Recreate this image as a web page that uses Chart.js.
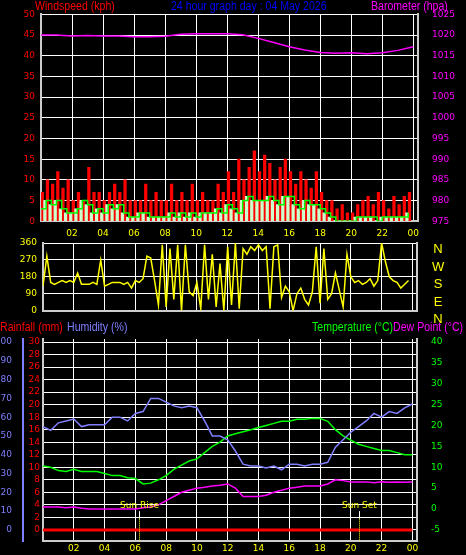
<!DOCTYPE html>
<html><head><meta charset="utf-8">
<script src="https://cdn.jsdelivr.net/npm/chart.js@4"></script>
<style>
body{margin:0;background:#000;width:466px;height:555px;overflow:hidden;position:relative;font-family:"Liberation Sans",sans-serif}
canvas{position:absolute;left:0}
.t{position:absolute;font-size:12px;white-space:nowrap;line-height:12px;transform:scaleX(0.88);transform-origin:0 0}
</style></head><body>
<canvas id="c1" style="top:3px"></canvas>
<canvas id="c2" style="top:230px"></canvas>
<canvas id="c3" style="top:318px"></canvas>
<div class="t" style="left:35px;top:0;color:#f00">Windspeed (kph)</div>
<div class="t" style="left:171px;top:0;color:#00f">24 hour graph day : 04 May 2026</div>
<div class="t" style="left:371px;top:0;color:#f0f">Barometer (hpa)</div>
<div class="t" style="left:432px;top:240px;color:#ff0;font-size:13px;line-height:17.5px;text-align:center;width:12px;transform:none">N<br>W<br>S<br>E<br>N</div>
<div class="t" style="left:0;top:321px;color:#f00">Rainfall (mm)</div>
<div class="t" style="left:67px;top:321px;color:#7f7fff">Humidity (%)</div>
<div class="t" style="left:312px;top:321px;color:#0f0">Temperature (°C)<span style="color:#f0f">Dew Point (°C)</span></div>
<script>
const hours=[0,2,4,6,8,10,12,14,16,18,20,22,24];
const hourLabels=['00','02','04','06','08','10','12','14','16','18','20','22','00'];
// wind, 20-minute steps from 00:00
const windGust=[7,10,9,12,8,10,5,7,5,13,7,7,5,7,9,7,10,5,5,5,9,5,7,5,5,9,5,7,5,9,5,7,5,5,9,7,12,7,15,10,13,17,12,16,14,10,13,15,12,9,12,10,8,12,7,5,5,3,4,2,2,4,5,6,4,7,5,3,6,4,6,7];
const windAvg=[3,5,4,5,3,2,2,3,5,4,2,3,2,4,3,4,2,1,1,2,2,1,1,1,1,2,1,2,1,2,1,2,2,2,3,2,4,3,2,5,6,5,5,5,6,5,4,6,6,4,3,5,4,4,3,2,1,0,0,0,0,1,1,1,1,0,1,1,1,1,1,2];
const barometer=[1020,1020,1019.8,1019.9,1019.8,1019.8,1019.6,1019.6,1019.7,1020.2,1020.3,1020.3,1020.3,1020.1,1019.2,1018.2,1017.2,1016.4,1015.8,1015.6,1015.7,1015.5,1015.7,1016.3,1017.2];
// wind direction, 15-minute steps
const windDir=[130,290,150,140,150,160,150,160,150,200,140,140,140,150,140,270,130,140,150,150,150,140,150,120,160,150,170,290,280,160,30,350,20,330,60,350,0,350,100,80,150,10,350,60,300,20,250,0,340,30,360,10,330,300,340,320,350,320,340,10,340,350,70,130,100,0,90,120,60,30,100,340,40,330,60,90,200,110,20,300,180,150,160,140,150,170,130,160,360,260,180,160,150,120,140,160];
// half-hourly
const humidity=[55,53,57,58,59,55,56,56,56,60,60,58,62,63,70,70,68,66,65,66,65,58,50,50,48,42,35,34,34,33,34,32,35,35,34,35,35,36,44,48,52,55,58,62,60,63,62,65,67];
const temperature=[10.3,10,9.2,9,9.5,9,9,9,8.5,8,8,7.5,7.3,6,6.2,7,8,9.5,10.5,11.5,12,13.5,15,16,17.5,18,18.5,19,19.5,20,20.5,21,21,21.5,21.5,21.7,21.7,21,19,17.5,16.5,15.5,15,14.5,14,14,13.5,13,13];
const dewPoint=[0.5,0.5,0.5,0.3,0.5,0.2,0,0,0,0,0,0,0,0.3,0.5,1,2,3,4,4.5,5,5.2,5.5,5.7,6,5,3,3,3,3.3,4,4.5,5,5.2,5.5,5.5,5.5,6,7,6.8,6.5,6.5,6.5,6.3,6.5,6.4,6.5,6.4,6.5];
const rainfall=hours.map(()=>0);
const sunRise=6.25, sunSet=20.5;

const XMAX=24.3;
const pts=(arr,step)=>arr.map((v,i)=>({x:i*step,y:v}));
const grid={color:'#fff',borderDash:[1,3],lineWidth:1,drawTicks:false};
const fnt={family:'DejaVu Sans',size:9};
function fixTicks(vals){return s=>{s.ticks=vals.map(v=>({value:v}));};}
function xScale(show,pad){return {type:'linear',offset:false,min:0,max:XMAX,afterBuildTicks:fixTicks(hours.slice(1)),
  grid:{...grid,offset:false},border:{color:'#ccc',width:2},
  ticks:{display:show,color:'#ff0',font:fnt,maxRotation:0,padding:pad,autoSkip:false,callback:v=>hourLabels[hours.indexOf(v)]}};}
function side(w){return s=>{s.width=w;};}
const plain=v=>String(v);
const base={responsive:false,animation:false,plugins:{legend:{display:false},tooltip:{enabled:false}}};
function size(id,w,h){const c=document.getElementById(id);c.width=w;c.height=h;return c;}

// chart 1
new Chart(size('c1',466,243),{data:{datasets:[
 {type:'line',data:pts(windAvg,1/3),borderColor:'#0f0',borderWidth:1.5,pointRadius:0,stepped:true,yAxisID:'y'},
 {type:'bar',data:pts(windAvg,1/3),backgroundColor:'#ccffcc',barPercentage:1,categoryPercentage:1,yAxisID:'y'},
 {type:'bar',data:pts(windGust,1/3),backgroundColor:'#f00',barPercentage:1,categoryPercentage:1,yAxisID:'y'},
 {type:'line',data:pts(barometer,1),borderColor:'#f0f',borderWidth:1.5,pointRadius:0,yAxisID:'y2'}]},
 options:{...base,layout:{padding:{top:10,bottom:0}},scales:{
  x:xScale(true,7),
  y:{position:'left',min:0,max:50,afterBuildTicks:fixTicks([0,5,10,15,20,25,30,35,40,45,50]),afterFit:side(41),grid:grid,border:{color:'#ccc',width:2},ticks:{color:'#f00',font:fnt,padding:6,autoSkip:false,callback:plain}},
  y2:{position:'right',min:975,max:1025,afterBuildTicks:fixTicks([975,980,985,990,995,1000,1005,1010,1015,1020,1025]),afterFit:side(48),grid:{display:false},border:{color:'#ccc',width:2},ticks:{color:'#f0f',font:fnt,padding:6,autoSkip:false,callback:plain}}}}});

// chart 2
new Chart(size('c2',466,92),{type:'line',data:{datasets:[
 {data:pts(windDir,0.25),borderColor:'#ff0',borderWidth:1.5,pointRadius:0}]},
 options:{...base,layout:{padding:{top:13,bottom:0}},scales:{
  x:xScale(false,0),
  y:{position:'left',min:0,max:360,afterBuildTicks:fixTicks([0,90,180,270,360]),afterFit:side(43),grid:grid,border:{color:'#ccc',width:2},ticks:{color:'#ff0',font:fnt,padding:6,autoSkip:false}},
  yr:{position:'right',min:0,max:360,afterFit:side(49),grid:{display:false},border:{color:'#ccc',width:2},ticks:{display:false}}}}});

// chart 3
const sunPlugin={id:'sun',afterDatasetsDraw(ch){const c=ch.ctx,x=ch.scales.x,y=ch.scales.hum;
 c.save();c.fillStyle='#ff0';c.font='9px DejaVu Sans';c.textAlign='center';
 [[sunRise,'Sun Rise'],[sunSet,'Sun Set']].forEach(([t,l])=>{const px=Math.round(x.getPixelForValue(t))+0.5;
  c.strokeStyle='#fff';c.setLineDash([]);c.beginPath();c.moveTo(px,y.getPixelForValue(10));c.lineTo(px,y.getPixelForValue(6));c.stroke();
  c.strokeStyle='#ff0';c.setLineDash([1,1]);c.beginPath();c.moveTo(px,y.getPixelForValue(6));c.lineTo(px,ch.chartArea.bottom);c.stroke();
  c.fillText(l,px,y.getPixelForValue(11.5));});
 c.restore();}};
new Chart(size('c3',466,238),{type:'line',data:{datasets:[
 {data:pts(humidity,0.5),borderColor:'#7f7fff',borderWidth:1.5,pointRadius:0,yAxisID:'hum'},
 {data:pts(temperature,0.5),borderColor:'#0f0',borderWidth:1.5,pointRadius:0,yAxisID:'temp'},
 {data:pts(dewPoint,0.5),borderColor:'#f0f',borderWidth:1.5,pointRadius:0,yAxisID:'temp'},
 {data:pts(rainfall,2),borderColor:'#f00',borderWidth:3,pointRadius:0,yAxisID:'rain'}]},
 plugins:[sunPlugin],
 options:{...base,layout:{padding:{top:21,bottom:0}},scales:{
  x:xScale(true,2),
  rain:{position:'left',weight:1,min:-1.8,max:30.48,afterBuildTicks:fixTicks([0,2,4,6,8,10,12,14,16,18,20,22,24,26,28,30]),afterFit:side(20),grid:grid,border:{color:'#ccc',width:2},ticks:{color:'#f00',font:fnt,padding:3,autoSkip:false}},
  hum:{position:'left',weight:2,min:-6,max:101.6,afterBuildTicks:fixTicks([0,10,20,30,40,50,60,70,80,90,100]),afterFit:side(23),grid:{display:false},border:{color:'#7f7fff',width:2},ticks:{color:'#7f7fff',font:fnt,padding:3,autoSkip:false}},
  temp:{position:'right',min:-7.7,max:40.7,afterBuildTicks:fixTicks([-5,0,5,10,15,20,25,30,35,40]),afterFit:side(49),grid:{display:false},border:{color:'#ccc',width:2},ticks:{color:'#0f0',font:fnt,padding:6,autoSkip:false}}}}});
</script></body></html>
